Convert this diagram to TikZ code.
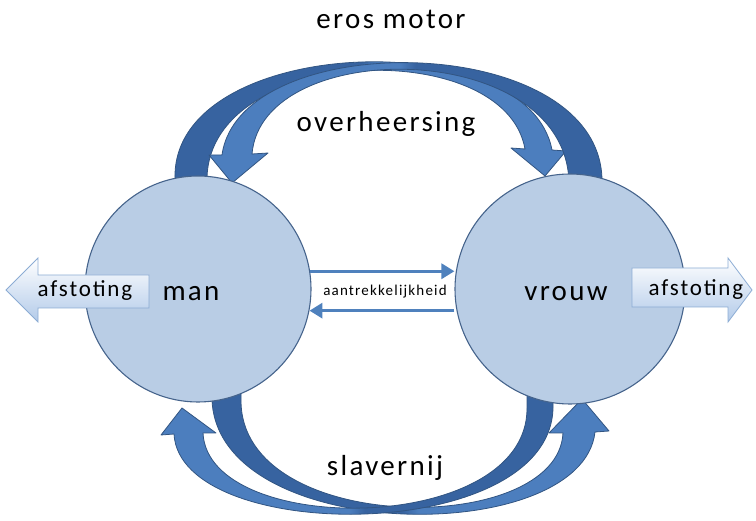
\documentclass[tikz,border=0pt]{standalone}
\usepackage{fontspec}
\setmainfont{Carlito}
\newfontfamily\bigf[LetterSpace=8]{Carlito}
\usetikzlibrary{arrows.meta}
\definecolor{tailc}{RGB}{55,99,160}
\definecolor{headc}{RGB}{76,126,190}
\definecolor{edgec}{RGB}{50,85,130}
\definecolor{circfill}{RGB}{185,205,229}
\definecolor{circedge}{RGB}{70,100,140}
\definecolor{midc}{RGB}{79,129,189}
\definecolor{afsbot}{RGB}{178,202,233}
\definecolor{afsedge}{RGB}{140,172,212}
\pgfdeclarehorizontalshading{tailleft}{100bp}{color(0bp)=(tailc); color(49bp)=(tailc); color(51bp)=(headc); color(100bp)=(headc)}
\pgfdeclarehorizontalshading{tailright}{100bp}{color(0bp)=(headc); color(49bp)=(headc); color(51bp)=(tailc); color(100bp)=(tailc)}
\tikzset{
  curvedarrow/.style={draw=edgec, line width=0.8pt, line join=round},
  circ/.style={circle, draw=circedge, line width=1.1pt, fill=circfill, inner sep=0pt},
  bigtext/.style={font=\bigf\fontsize{29}{32}\selectfont, text=black},
  afstext/.style={font=\bigf\fontsize{23}{26}\selectfont, text=black},
  afsarrow/.style={draw=afsedge, line width=0.8pt, top color=white, bottom color=afsbot},
  midarrow/.style={draw=midc, line width=3.2pt, -{Triangle[length=13pt,width=15pt]}},
}
\begin{document}
\begin{tikzpicture}[x=1pt,y=-1pt]
\useasboundingbox (0,0) rectangle (756,521);
% top curved arrows
\path[curvedarrow, shading=tailleft] (175,215) -- (175,178) .. controls (172,35) and (528,22) .. (552,150)
  -- (566,151) -- (545,176) -- (511,148) -- (525,149) .. controls (505,35) and (210,45) .. (207,178) -- (207,215) -- cycle;
\path[curvedarrow, shading=tailright] (602,215) -- (602,184) .. controls (606,30) and (240,25) .. (222,155)
  -- (209,155) -- (232,183) -- (268,153) -- (252,154) .. controls (262,35) and (568,38) .. (569,184) -- (569,215) -- cycle;
% bottom curved arrows
\path[curvedarrow, shading=tailleft] (212,375) -- (212,400) .. controls (218,545) and (582,548) .. (595,432)
  -- (609,431) -- (582,399) -- (549,433) -- (563,433) .. controls (558,538) and (240,536) .. (241,400) -- (241,375) -- cycle;
\path[curvedarrow, shading=tailright] (553,380) -- (553,408) .. controls (550,545) and (180,545) .. (174,434)
  -- (161,435) -- (182,408) -- (216,433) -- (203,433) .. controls (208,538) and (528,536) .. (527,408) -- (527,380) -- cycle;
% circles
\node[circ, minimum size=226pt] (man) at (198,289) {};
\node[circ, minimum size=230pt] (vrouw) at (570,289) {};
% afstoting arrows
\path[afsarrow] (149,275) -- (38,275) -- (38,258) -- (6,290) -- (38,322) -- (38,308) -- (149,308) -- cycle;
\path[afsarrow] (632,268) -- (728,268) -- (728,258) -- (752,290) -- (728,322) -- (728,307) -- (632,307) -- cycle;
\node[afstext] (afsl) at (85,291) {afstoting};
\node[afstext] (afsr) at (696,290) {afstoting};
% middle arrows
\draw[midarrow] (man.9) -- (man.9 -| vrouw.west);
\draw[midarrow] (vrouw.west |- man.-11) -- (man.-11);
\node[font=\bigf\fontsize{15}{17}\selectfont] (aantr) at (385,292) {aantrekkelijkheid};
% texts
\node[bigtext] (manl) at (191,294) {man};
\node[bigtext] (vrouwl) at (566,294) {vrouw};
\node[bigtext] (eros) at (391,19) {eros motor};
\node[bigtext] (over) at (386,124) {overheersing};
\node[bigtext] (slav) at (385,468) {slavernij};
\end{tikzpicture}
\end{document}
